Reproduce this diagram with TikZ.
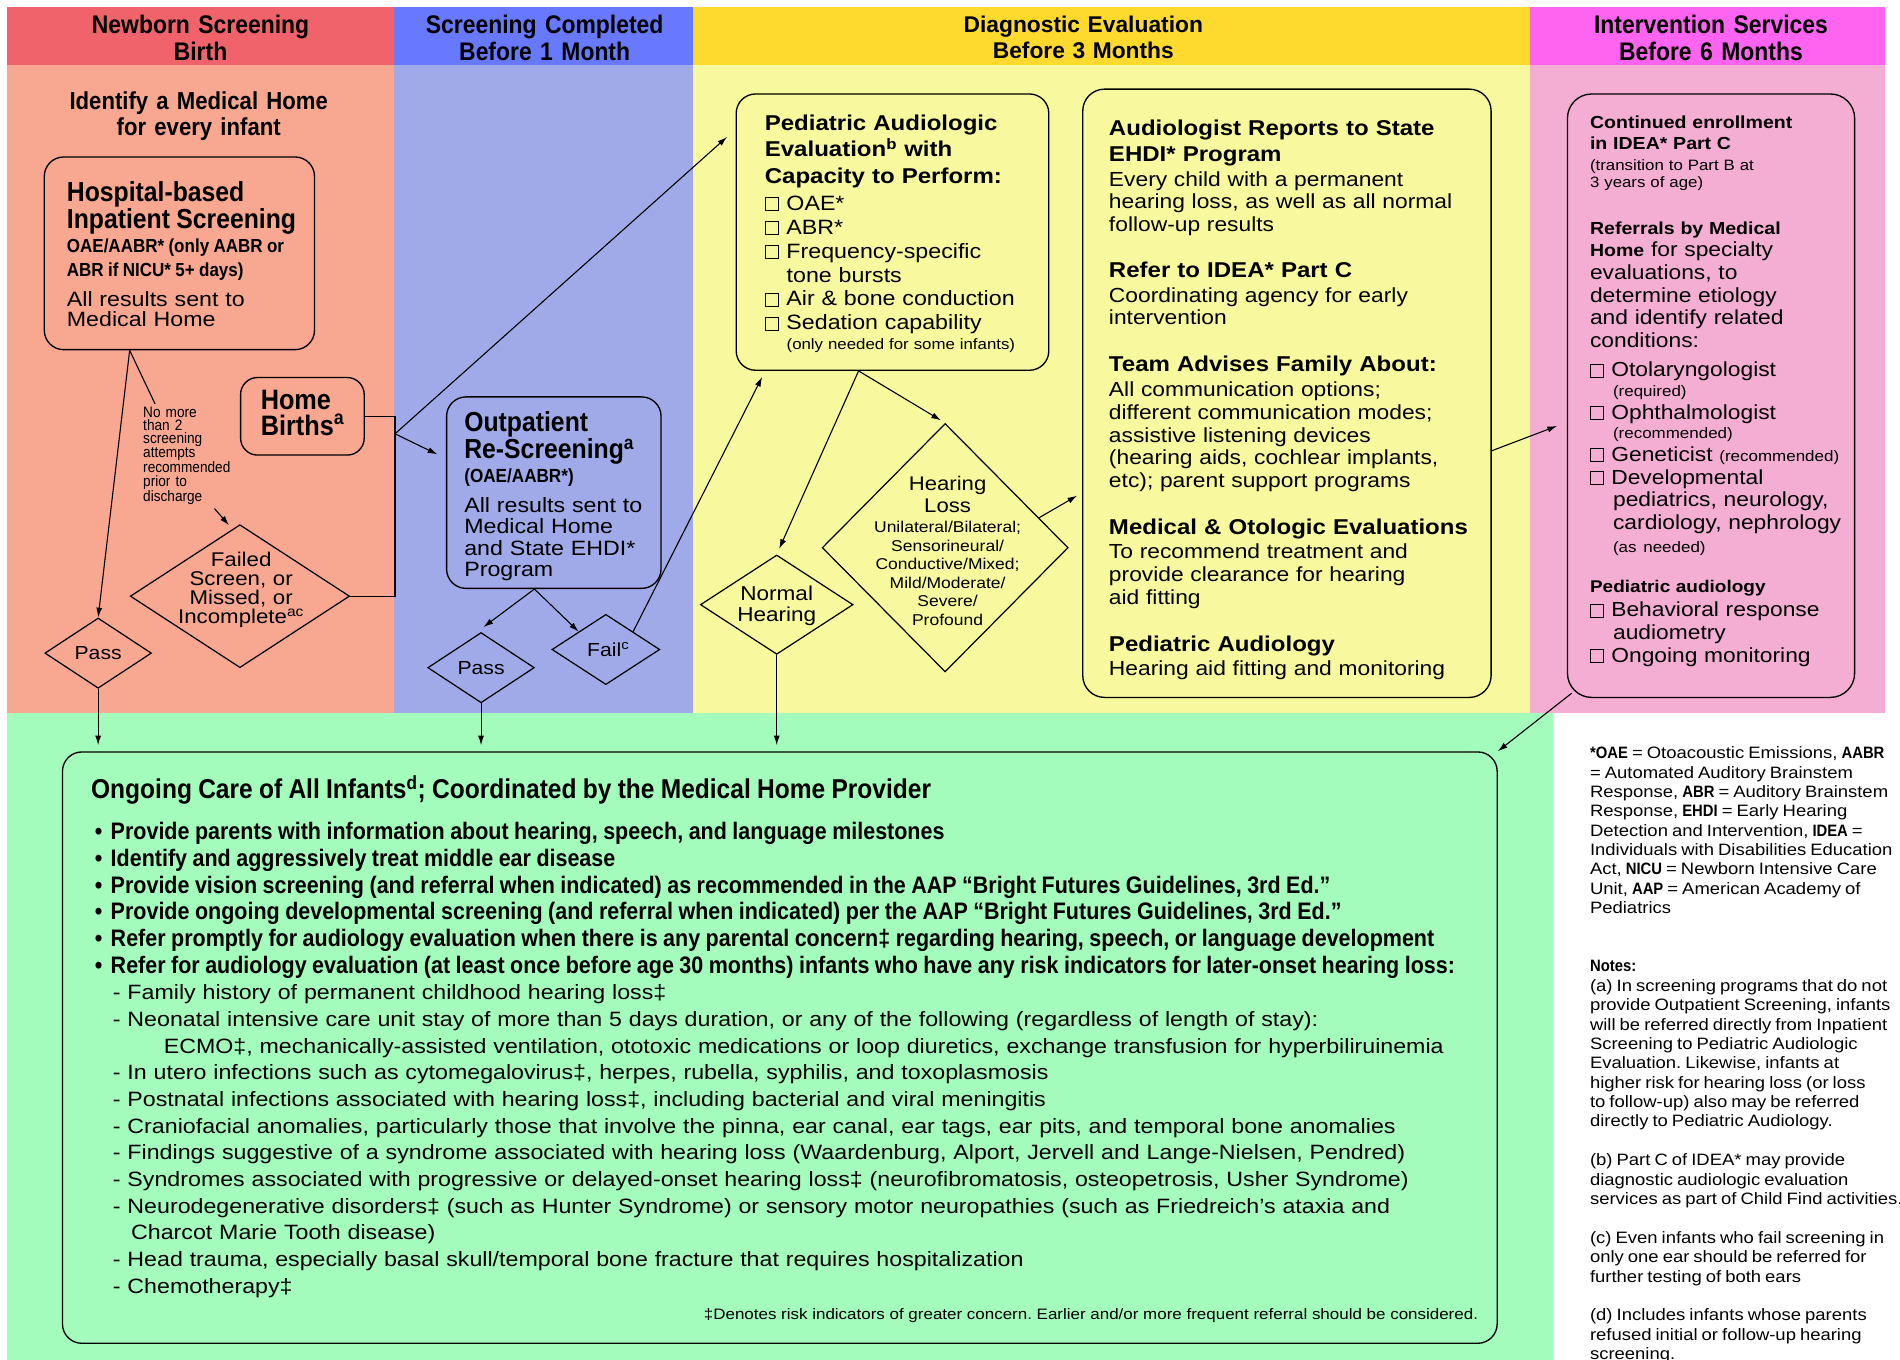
\documentclass[tikz,border=0pt]{standalone}
\usepackage{fontspec}
\setmainfont{Liberation Sans}
\newfontfamily\cnd[FakeStretch=0.9]{Liberation Sans}
\newfontfamily\wde[FakeStretch=1.12]{Liberation Sans}
\usetikzlibrary{
    arrows.meta,
    shapes.geometric,
    calc,
    positioning
}
\definecolor{hdred}{HTML}{F1636B}
\definecolor{bgred}{HTML}{F8A891}
\definecolor{hdblue}{HTML}{6878FF}
\definecolor{bgblue}{HTML}{A0AAE8}
\definecolor{hdyellow}{HTML}{FFDA2E}
\definecolor{bgyellow}{HTML}{F8F89E}
\definecolor{hdpink}{HTML}{FF64F0}
\definecolor{bgpink}{HTML}{F4AED4}
\definecolor{bggreen}{HTML}{A4FCBC}
\frenchspacing
\newcommand{\fz}[2]{\fontsize{#1pt}{#2pt}\selectfont}
\newcommand{\sk}[2]{\spaceskip=#2\dimexpr#1pt\relax plus 0.1\dimexpr#1pt\relax minus 0.05\dimexpr#1pt\relax\relax}
\newcommand{\C}[2]{\cnd\bfseries\fz{#1}{#2}\sk{#1}{0.23}}
\newcommand{\W}[2]{\wde\fz{#1}{#2}\sk{#1}{0.33}}
\newcommand{\Wb}[2]{\wde\bfseries\fz{#1}{#2}\sk{#1}{0.33}}
\newcommand{\cb}{{\setlength{\fboxsep}{0pt}\setlength{\fboxrule}{0.8pt}\fbox{\rule{0pt}{0.6em}\hspace{0.6em}}}\hspace{0.35em}}
\newcommand{\bul}{\hspace*{3pt}•\hspace{7pt}}
\newcommand{\nb}[1]{{\cnd\bfseries #1}}
\tikzset{
    rbox/.style={draw, line width=1.1pt, anchor=north west, inner sep=0pt},
    txt/.style={anchor=north west, inner sep=0pt, text width=#1, align=left},
    ctxt/.style={anchor=north, inner sep=0pt, text width=#1, align=center},
    dia/.style={draw, diamond, line width=1pt, inner sep=0pt},
    arr/.style={-{Latex[length=8pt,width=5pt]}, line width=0.9pt},
    con/.style={line width=0.9pt}
}

\begin{document}
\begin{tikzpicture}[x=1pt, y=-1pt]
\useasboundingbox (0,0) rectangle (1568,1122);
\fill[white] (0,0) rectangle (1568,1122);
% column bands
\fill[hdred] (6,6) rectangle (325,54);
\fill[hdblue] (325,6) rectangle (572,54);
\fill[hdyellow] (572,6) rectangle (1263,54);
\fill[hdpink] (1263,6) rectangle (1556,54);
\fill[bgred] (6,54) rectangle (325,588);
\fill[bgblue] (325,54) rectangle (572,588);
\fill[bgyellow] (572,54) rectangle (1263,588);
\fill[bgpink] (1263,54) rectangle (1556,588);
\fill[bggreen] (6,588) rectangle (1282,1122);

% headers
\node[ctxt=300pt, font=\C{21}{22}] (hdbirth) at (165.5,12.2) {Newborn Screening\\Birth};
\node[ctxt=240pt, font=\C{21}{22}] (hdmonth) at (449.5,12.2) {Screening Completed\\Before 1 Month};
\node[ctxt=600pt, font=\bfseries\fz{18.8}{22}] (hddiag) at (894,12.8) {Diagnostic Evaluation\\Before 3 Months};
\node[ctxt=290pt, font=\C{21}{22}] (hdinterv) at (1412,12.2) {Intervention Services\\Before 6 Months};

% newborn screening column
\node[ctxt=300pt, font=\C{20.3}{22}] (medhome) at (164,75.3) {Identify a Medical Home\\for every infant};
\node[rbox, rounded corners=16pt, minimum width=223pt, minimum height=159pt] (hosp) at (36,129) {};
\node[txt=215pt] (hosptxt) at (55,149.6) {%
  {\C{22.7}{22}Hospital-based\\Inpatient Screening\par}
  {\C{15.6}{20}OAE/AABR* (only AABR or\\ABR if NICU* 5+ days)\par}
  \vspace{7.6pt}
  {\W{17.1}{17}All results sent to\\Medical Home\par}};
\node[rbox, rounded corners=14pt, minimum width=102pt, minimum height=64pt] (home) at (198,311) {};
\node[txt=100pt] (hometxt) at (215,321.4) {{\C{23.2}{22}Home\\Births\textsuperscript{a}\par}};
\node[txt=90pt, font=\cnd\fz{12.5}{11.1}] (note) at (118,335.4) {No more\\than 2\\screening\\attempts\\recommended\\prior to\\discharge};
\node[dia, minimum width=181pt, minimum height=118pt] (failed) at (198,492) {};
\node[ctxt=160pt, anchor=center, font=\W{16.4}{15.7}] (failedtxt) at (199,487) {Failed\\Screen, or\\Missed, or\\Incomplete\textsuperscript{ac}};
\node[dia, minimum width=88pt, minimum height=58pt] (pass1) at (81,539) {};
\node[inner sep=0pt, font=\W{15.6}{16}] (pass1txt) at (81,539) {Pass};

% outpatient column
\node[rbox, rounded corners=16pt, minimum width=177pt, minimum height=158pt] (outp) at (368,327) {};
\node[txt=165pt] (outptxt) at (383,339.6) {%
  {\C{22.7}{22}Outpatient\\Re-Screening\textsuperscript{a}\par}
  {\C{15.7}{20}(OAE/AABR*)\par}
  \vspace{6.8pt}
  {\W{17.1}{17.7}All results sent to\\Medical Home\\and State EHDI*\\Program\par}};
\node[dia, minimum width=88pt, minimum height=58pt] (pass2) at (397,551) {};
\node[inner sep=0pt, font=\W{15.6}{16}] (pass2txt) at (397,551) {Pass};
\node[dia, minimum width=89pt, minimum height=58pt] (fail) at (500,536) {};
\node[inner sep=0pt, font=\W{15.6}{16}] (failtxt) at (502,536) {Fail\textsuperscript{c}};

% diagnostic column
\node[rbox, rounded corners=16pt, minimum width=258pt, minimum height=228pt] (ped) at (607,77) {};
\node[txt=240pt] (pedtxt) at (631,94.5) {%
  {\Wb{17.7}{22}Pediatric Audiologic\\Evaluation\textsuperscript{b} with\\Capacity to Perform:\par}
  \vspace{2pt}
  {\W{17.1}{19.8}\cb OAE*\\\cb ABR*\\\cb Frequency-specific\\\hspace*{18pt}tone bursts\\\cb Air \& bone conduction\\\cb Sedation capability\par}
  {\W{12.4}{16.3}\hspace*{18pt}(only needed for some infants)\par}};
\node[dia, minimum width=126pt, minimum height=82pt] (normal) at (641,499) {};
\node[ctxt=120pt, anchor=center, font=\W{16.6}{17}] (normaltxt) at (641,500) {Normal\\Hearing};
\node[dia, minimum width=203pt, minimum height=205pt] (hl) at (780,452) {};
\node[ctxt=160pt] (hltxt) at (782,393) {%
  {\W{16.3}{18}Hearing\\Loss\par}
  \vspace{1.3pt}
  {\W{12.9}{15.3}Unilateral/Bilateral;\\Sensorineural/\\Conductive/Mixed;\\Mild/Moderate/\\Severe/\\Profound\par}};
\node[rbox, rounded corners=18pt, minimum width=337pt, minimum height=502pt] (aud) at (893,73) {};
\node[txt=318pt] (audtxt) at (915,98.5) {%
  {\Wb{17.7}{21.6}Audiologist Reports to State\\EHDI* Program\par}
  \vspace{2.4pt}
  {\W{16.8}{18.4}Every child with a permanent\\hearing loss, as well as all normal\\follow-up results\par}
  \vspace{17pt}
  {\Wb{17.7}{21.6}Refer to IDEA* Part C\par}
  \vspace{2pt}
  {\W{16.8}{18.4}Coordinating agency for early\\intervention\par}
  \vspace{17pt}
  {\Wb{17.7}{21.6}Team Advises Family About:\par}
  \vspace{2pt}
  {\W{16.8}{18.7}All communication options;\\different communication modes;\\assistive listening devices\\(hearing aids, cochlear implants,\\etc); parent support programs\par}
  \vspace{17pt}
  {\Wb{17.7}{21.6}Medical \& Otologic Evaluations\par}
  \vspace{1pt}
  {\W{16.8}{19}To recommend treatment and\\provide clearance for hearing\\aid fitting\par}
  \vspace{17pt}
  {\Wb{17.7}{21.6}Pediatric Audiology\par}
  \vspace{1.5pt}
  {\W{16.8}{18.4}Hearing aid fitting and monitoring\par}};

% intervention column
\node[rbox, rounded corners=20pt, minimum width=237pt, minimum height=498pt] (pink) at (1293,77) {};
\node[txt=232pt] (pinktxt) at (1312,95.7) {%
  {\Wb{14.4}{17}Continued enrollment\\in IDEA* Part C\par}
  \vspace{3.3pt}
  {\W{12.4}{14}(transition to Part B at\\3 years of age)\par}
  \vspace{20pt}
  {\W{16.8}{18.7}{\Wb{14.4}{18.7}Referrals by Medical\\Home} for specialty\\evaluations, to\\determine etiology\\and identify related\\conditions:\par}
  \vspace{5.5pt}
  {\W{16.8}{18.7}\cb Otolaryngologist\\[-2.5pt]\hspace*{19pt}{\fz{12.5}{18.7}(required)}\\\cb Ophthalmologist\\[-2.5pt]\hspace*{19pt}{\fz{12.5}{18.7}(recommended)}\\\cb Geneticist {\fz{12.5}{18.7}(recommended)}\\\cb Developmental\\\hspace*{19pt}pediatrics, neurology,\\\hspace*{19pt}cardiology, nephrology\\\hspace*{19pt}{\fz{12.5}{18.7}(as needed)}\par}
  \vspace{14.8pt}
  {\Wb{14}{18.7}Pediatric audiology\par}
  \vspace{1.3pt}
  {\W{16.8}{18.7}\cb Behavioral response\\\hspace*{19pt}audiometry\\\cb Ongoing monitoring\par}};

% notes
\node[txt=300pt] (notes) at (1312,616) {%
  {\wde\fz{13.6}{16}\nb{*OAE} = Otoacoustic Emissions, \nb{AABR}\\= Automated Auditory Brainstem\\Response, \nb{ABR} = Auditory Brainstem\\Response, \nb{EHDI} = Early Hearing\\Detection and Intervention, \nb{IDEA} =\\Individuals with Disabilities Education\\Act, \nb{NICU} = Newborn Intensive Care\\Unit, \nb{AAP} = American Academy of\\Pediatrics\\[32pt]
  \nb{Notes:}\\(a) In screening programs that do not\\provide Outpatient Screening, infants\\will be referred directly from Inpatient\\Screening to Pediatric Audiologic\\Evaluation. Likewise, infants at\\higher risk for hearing loss (or loss\\to follow-up) also may be referred\\directly to Pediatric Audiology.\\[16pt]
  (b) Part C of IDEA* may provide\\diagnostic audiologic evaluation\\services as part of Child Find activities.\\[16pt]
  (c) Even infants who fail screening in\\only one ear should be referred for\\further testing of both ears\\[16pt]
  (d) Includes infants whose parents\\refused initial or follow-up hearing\\screening.\par}};

% ongoing care
\node[rbox, rounded corners=16pt, minimum width=1184pt, minimum height=488pt] (care) at (51,620) {};
\node[txt=1170pt] (caretxt) at (75,640) {%
  {\C{22.5}{22}Ongoing Care of All Infants\textsuperscript{d}; Coordinated by the Medical Home Provider\par}
  \vspace{12pt}
  {\C{19.7}{22}\bul Provide parents with information about hearing, speech, and language milestones\\
  \bul Identify and aggressively treat middle ear disease\\
  \bul Provide vision screening (and referral when indicated) as recommended in the AAP “Bright Futures Guidelines, 3rd Ed.”\\
  \bul Provide ongoing developmental screening (and referral when indicated) per the AAP “Bright Futures Guidelines, 3rd Ed.”\\
  \bul Refer promptly for audiology evaluation when there is any parental concern‡ regarding hearing, speech, or language development\\
  \bul Refer for audiology evaluation (at least once before age 30 months) infants who have any risk indicators for later-onset hearing loss:\par}
  {\W{17.1}{22}\hspace*{18pt}- Family history of permanent childhood hearing loss‡\\
  \hspace*{18pt}- Neonatal intensive care unit stay of more than 5 days duration, or any of the following (regardless of length of stay):\\
  \hspace*{60pt}ECMO‡, mechanically-assisted ventilation, ototoxic medications or loop diuretics, exchange transfusion for hyperbiliruinemia\\
  \hspace*{18pt}- In utero infections such as cytomegalovirus‡, herpes, rubella, syphilis, and toxoplasmosis\\
  \hspace*{18pt}- Postnatal infections associated with hearing loss‡, including bacterial and viral meningitis\\
  \hspace*{18pt}- Craniofacial anomalies, particularly those that involve the pinna, ear canal, ear tags, ear pits, and temporal bone anomalies\\
  \hspace*{18pt}- Findings suggestive of a syndrome associated with hearing loss (Waardenburg, Alport, Jervell and Lange-Nielsen, Pendred)\\
  \hspace*{18pt}- Syndromes associated with progressive or delayed-onset hearing loss‡ (neurofibromatosis, osteopetrosis, Usher Syndrome)\\
  \hspace*{18pt}- Neurodegenerative disorders‡ (such as Hunter Syndrome) or sensory motor neuropathies (such as Friedreich’s ataxia and\\
  \hspace*{33pt}Charcot Marie Tooth disease)\\
  \hspace*{18pt}- Head trauma, especially basal skull/temporal bone fracture that requires hospitalization\\
  \hspace*{18pt}- Chemotherapy‡\par}};
\node[anchor=north east, inner sep=0pt, font=\wde\fz{12.5}{14}] (denote) at (1220,1080) {‡Denotes risk indicators of greater concern. Earlier and/or more frequent referral should be considered.};

% connectors
\coordinate (hb) at ($(hosp.south west)+(71,0)$);
\draw[arr] (hb) -- (pass1.north);
\draw[con] (hb) -- ($(note.north west)+(10,-2)$);
\draw[arr] ($(note.south west)+(59,3)$) -- ($(failed.north)+(-9,1)$);
\coordinate (jn) at (326,358);
\draw[con] (home.east) -- (home.east -| jn) -- (failed.east -| jn) -- (failed.east);
\draw[arr] (jn) -- ($(outp.north west)+(-7,48)$);
\draw[arr] (jn) -- ($(ped.north west)+(-7,36)$);
\coordinate (ob) at ($(outp.south)+(-16,0)$);
\draw[arr] (ob) -- ($(pass2.north)+(2,-4)$);
\draw[arr] (ob) -- (fail.north west);
\draw[arr] (fail.north east) -- ($(ped.south west)+(22,5)$);
\draw[arr, shorten >=5pt] (pass1.south) -- (pass1.south |- care.north);
\draw[arr, shorten >=5pt] (pass2.south) -- (pass2.south |- care.north);
\draw[arr, shorten >=5pt] (normal.south) -- (normal.south |- care.north);
\coordinate (pb) at ($(ped.south)+(-28,0)$);
\draw[arr, shorten >=5pt] (pb) -- (normal.north);
\draw[arr, shorten >=4pt] (pb) -- (hl.north);
\draw[arr] ($(hl.north)!0.76!(hl.east)$) -- ($(aud.north west)+(-4,336)$);
\draw[arr] ($(aud.north east)+(0,299)$) -- ($(pink.north west)+(-8,274.5)$);
\draw[arr] ($(pink.south west)+(4,-4)$) -- (care.north east);
\end{tikzpicture}
\end{document}
